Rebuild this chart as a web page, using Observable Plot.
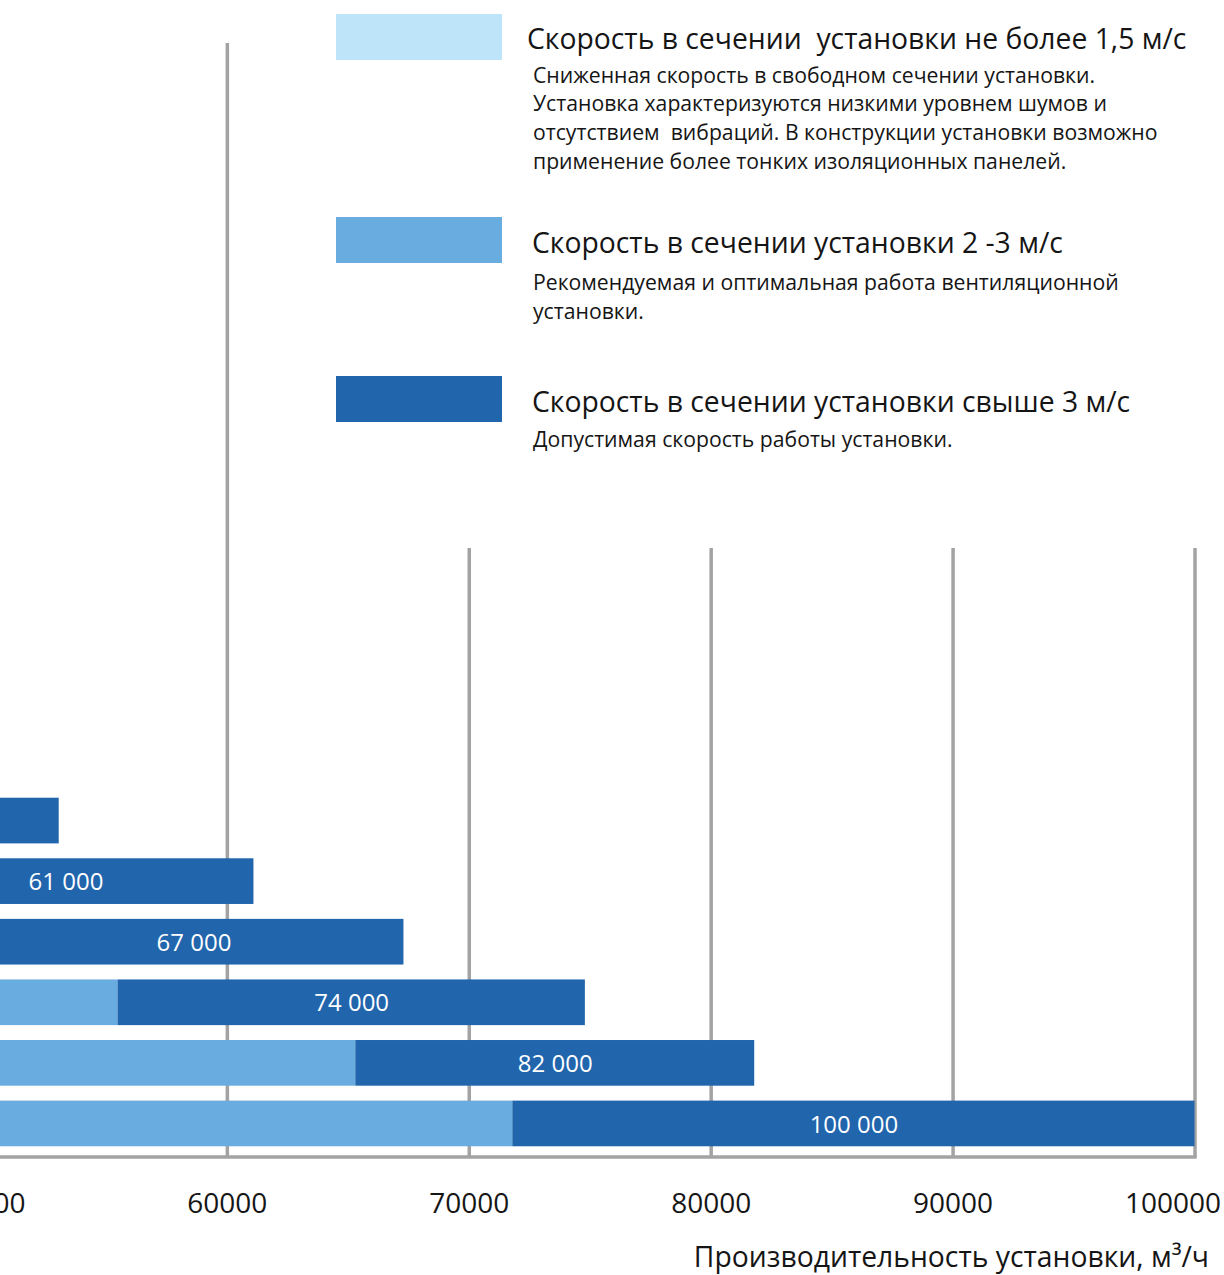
<!DOCTYPE html>
<html>
<head>
<meta charset="utf-8">
<script src="https://cdn.jsdelivr.net/npm/d3@7"></script>
<script src="https://cdn.jsdelivr.net/npm/@observablehq/plot@0.6"></script>
<style>
  html, body { margin: 0; padding: 0; background: #fff; }
  body { width: 1224px; height: 1275px; overflow: hidden; position: relative; font-family: "Open Sans", sans-serif; }
  #chart { position: absolute; left: -257.5px; top: 0; }
  #legend { position: absolute; left: 300px; top: 0; }
</style>
</head>
<body>
<div id="chart"></div>
<div id="legend"></div>
<script>
// ---- data ----
const units = ["1", "2", "3", "4", "5", "6"];
// upper limit of the 2–3 m/s range (end of the mid-blue segment), m³/h
const midFlowMax = [41000, 45560, 49940, 55480, 65310, 71800];
// upper limit of the > 3 m/s range (end of the dark segment), m³/h
const maxFlow = [53050, 61100, 67300, 74800, 81800, 100000];
const flowLabels = [null, "61 000", "67 000", "74 000", "82 000", "100 000"];
const xTicks = [50000, 60000, 70000, 80000, 90000, 100000];
const xLabel = "Производительность установки, м³/ч";

const legendColors = ["#bde4f9", "#69acdf", "#2165ad"];
const legendTitles = [
  "Скорость в сечении  установки не более 1,5 м/с",
  "Скорость в сечении установки 2 -3 м/с",
  "Скорость в сечении установки свыше 3 м/с"
];
const legendDescriptions = [
  ["Сниженная скорость в свободном сечении установки.",
   "Установка характеризуются низкими уровнем шумов и",
   "отсутствием  вибраций. В конструкции установки возможно",
   "применение более тонких изоляционных панелей."],
  ["Рекомендуемая и оптимальная работа вентиляционной",
   "установки."],
  ["Допустимая скорость работы установки."]
];

// ---- chart ----
const xMin = 40000;
const rows = units.map((u, i) => ({unit: u, mid: midFlowMax[i], max: maxFlow[i], label: flowLabels[i]}));
const gridColor = "#a3a3a3";
const textColor = "#151515";

const chart = Plot.plot({
  width: 1482,
  height: 1275,
  marginLeft: 0,
  marginRight: 30,
  marginTop: 43,
  marginBottom: 118,
  style: {fontFamily: "'Open Sans', sans-serif", background: "transparent", color: textColor},
  x: {domain: [xMin, 100000], label: null},
  y: {domain: units, paddingInner: 0.246, paddingOuter: 6.3145, align: 0.9865, round: false, axis: null},
  marks: [
    Plot.ruleX(xTicks, {stroke: gridColor, strokeWidth: 3.5}),
    Plot.barX(rows, {y: "unit", x1: xMin, x2: "mid", fill: legendColors[1]}),
    Plot.barX(rows, {y: "unit", x1: "mid", x2: "max", fill: legendColors[2]}),
    Plot.frame({anchor: "bottom", stroke: gridColor, strokeWidth: 3.5}),
    Plot.text(rows.filter(d => d.label), {
      y: "unit", x: d => (d.mid + d.max) / 2, text: "label",
      fill: "white", fontSize: 24, dy: 1
    }),
    Plot.axisX({ticks: xTicks.slice(0, -1), tickSize: 0, tickPadding: 36, fontSize: 28,
      tickFormat: d3.format("d"), label: null, fill: textColor}),
    Plot.axisX({ticks: xTicks.slice(-1), tickSize: 0, tickPadding: 36, fontSize: 28,
      tickFormat: d3.format("d"), label: null, textAnchor: "end", dx: 26, fill: textColor}),
    Plot.text([xLabel], {frameAnchor: "bottom-right", textAnchor: "end", lineAnchor: "top",
      dx: 14, dy: 90, fontSize: 28.3, fill: textColor})
  ]
});
document.getElementById("chart").appendChild(chart);

// ---- legend (white panel over the upper right of the plot) ----
const boxTops = [14, 217, 376];
const titleBaselines = [49.3, 253.3, 412.3];
const titleLefts = [227, 232, 232];
const descBaselines = [82.5, 290, 447];
const lineStep = 28.8;
const svg = d3.select("#legend").append("svg")
  .attr("width", 924).attr("height", 548)
  .style("font-family", "'Open Sans', sans-serif");
svg.append("rect").attr("width", 924).attr("height", 548).attr("fill", "#fff");
legendTitles.forEach((t, i) => {
  svg.append("rect").attr("x", 36).attr("y", boxTops[i]).attr("width", 166).attr("height", 46)
    .attr("fill", legendColors[i]);
  svg.append("text").attr("x", titleLefts[i]).attr("y", titleBaselines[i])
    .attr("font-size", 28.3).attr("fill", textColor)
    .style("white-space", "pre").text(t);
  legendDescriptions[i].forEach((line, j) => {
    svg.append("text").attr("x", 233).attr("y", descBaselines[i] + j * lineStep)
      .attr("font-size", 21.2).attr("fill", textColor)
      .style("white-space", "pre").text(line);
  });
});
</script>
</body>
</html>
